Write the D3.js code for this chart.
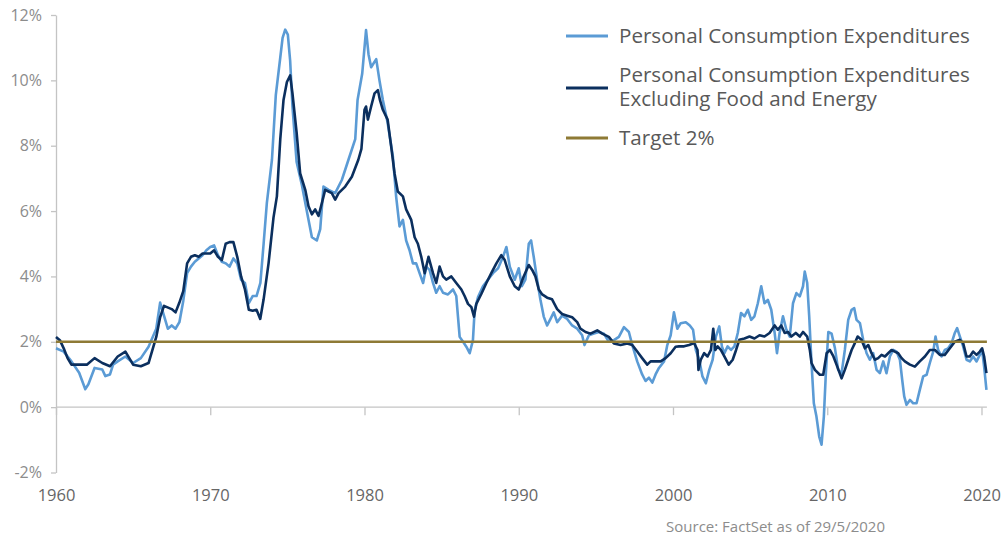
<!DOCTYPE html>
<html>
<head>
<meta charset="utf-8">
<script src="https://cdn.jsdelivr.net/npm/d3@7"></script>
<style>
  html, body { margin: 0; padding: 0; background: #ffffff; }
  svg { display: block; font-family: "Open Sans", Lato, sans-serif; }
</style>
</head>
<body>
<svg id="chart" width="1008" height="538"></svg>
<script>
// ---- Data ----
const pceYears = [1960.0,1960.5,1961.0,1961.5,1961.9,1962.1,1962.5,1963.0,1963.2,1963.5,1963.7,1964.0,1964.5,1965.0,1965.5,1966.0,1966.5,1966.75,1967.0,1967.25,1967.5,1967.75,1968.0,1968.25,1968.5,1968.75,1969.0,1969.25,1969.5,1969.75,1970.0,1970.25,1970.5,1970.75,1971.0,1971.25,1971.5,1971.75,1972.0,1972.25,1972.5,1972.75,1973.0,1973.25,1973.46,1973.67,1974.0,1974.25,1974.54,1974.69,1974.86,1975.03,1975.18,1975.33,1975.6,1975.94,1976.26,1976.59,1976.91,1977.13,1977.34,1977.67,1978.1,1978.53,1978.96,1979.4,1979.55,1979.85,1980.1,1980.26,1980.43,1980.76,1980.97,1981.19,1981.5,1981.84,1982.05,1982.27,1982.49,1982.7,1982.92,1983.14,1983.35,1983.57,1983.8,1984.0,1984.22,1984.44,1984.65,1984.87,1985.09,1985.41,1985.74,1985.95,1986.06,1986.17,1986.39,1986.6,1986.82,1987.03,1987.14,1987.36,1987.68,1988.0,1988.33,1988.66,1988.98,1989.2,1989.42,1989.74,1990.0,1990.2,1990.43,1990.65,1990.8,1990.97,1991.19,1991.4,1991.62,1991.84,1992.06,1992.27,1992.49,1992.81,1993.14,1993.46,1993.79,1994.11,1994.26,1994.55,1994.87,1995.2,1995.52,1995.84,1996.17,1996.49,1996.82,1997.14,1997.36,1997.68,1998.0,1998.22,1998.44,1998.66,1998.87,1999.09,1999.42,1999.63,1999.85,2000.06,2000.28,2000.5,2000.83,2001.09,2001.3,2001.48,2001.7,2001.91,2002.13,2002.35,2002.57,2002.78,2003.0,2003.17,2003.33,2003.54,2003.76,2003.98,2004.2,2004.41,2004.63,2004.85,2005.07,2005.28,2005.5,2005.72,2005.93,2006.15,2006.37,2006.59,2006.74,2006.91,2007.13,2007.35,2007.57,2007.78,2008.0,2008.22,2008.43,2008.54,2008.7,2008.83,2008.98,2009.13,2009.3,2009.48,2009.63,2009.78,2009.91,2010.07,2010.28,2010.5,2010.71,2010.93,2011.14,2011.36,2011.58,2011.75,2011.9,2012.12,2012.33,2012.55,2012.76,2012.98,2013.2,2013.41,2013.63,2013.84,2014.06,2014.28,2014.49,2014.71,2014.86,2014.99,2015.14,2015.36,2015.57,2015.79,2016.0,2016.22,2016.44,2016.65,2016.87,2017.02,2017.19,2017.41,2017.62,2017.84,2018.06,2018.27,2018.42,2018.6,2018.81,2019.03,2019.24,2019.46,2019.68,2019.89,2020.04,2020.17,2020.32];
const pceValues = [1.8,1.7,1.4,1.05,0.55,0.7,1.2,1.15,0.95,1.0,1.3,1.4,1.55,1.35,1.5,1.85,2.4,3.2,2.8,2.4,2.5,2.4,2.6,3.25,4.1,4.3,4.45,4.55,4.65,4.8,4.9,4.95,4.65,4.45,4.4,4.3,4.55,4.4,3.9,3.8,3.18,3.4,3.4,3.8,5.0,6.25,7.57,9.55,10.7,11.3,11.55,11.4,10.6,9.2,7.5,6.8,6.0,5.2,5.1,5.45,6.75,6.65,6.55,6.95,7.57,8.2,9.4,10.2,11.54,10.8,10.4,10.65,10.0,9.4,8.7,7.67,6.45,5.53,5.73,5.1,4.8,4.4,4.4,4.1,3.8,4.3,4.2,3.8,3.5,3.7,3.5,3.45,3.6,3.4,2.77,2.15,2.0,1.85,1.65,2.05,2.96,3.37,3.7,3.9,4.1,4.25,4.6,4.9,4.3,3.9,4.25,3.7,3.9,5.0,5.1,4.6,3.9,3.3,2.77,2.5,2.7,2.9,2.6,2.8,2.7,2.5,2.4,2.2,1.9,2.2,2.25,2.3,2.25,2.0,2.05,2.15,2.45,2.3,1.9,1.4,1.0,0.8,0.9,0.75,1.0,1.2,1.4,1.9,2.2,2.9,2.4,2.57,2.6,2.5,2.37,1.75,1.45,0.94,0.73,1.14,1.45,2.16,2.47,1.86,1.65,1.86,1.75,1.86,2.27,2.88,2.78,2.98,2.67,2.78,3.18,3.7,3.18,3.28,2.98,2.27,1.65,2.27,2.78,2.37,2.16,3.18,3.49,3.39,3.7,4.15,3.8,2.78,1.35,0.12,-0.29,-0.9,-1.15,-0.29,1.04,2.3,2.25,1.8,1.14,1.04,1.75,2.67,2.98,3.03,2.67,2.57,2.06,1.65,1.45,1.65,1.14,1.04,1.4,1.04,1.55,1.75,1.7,1.45,0.83,0.33,0.07,0.22,0.12,0.12,0.53,0.94,0.99,1.35,1.7,2.16,1.75,1.55,1.75,1.8,1.96,2.27,2.42,2.16,1.86,1.45,1.4,1.55,1.4,1.6,1.75,1.24,0.53];

const coreYears = [1960.0,1960.25,1960.5,1960.75,1961.0,1961.5,1962.0,1962.5,1963.0,1963.5,1964.0,1964.5,1965.0,1965.5,1966.0,1966.5,1966.75,1967.0,1967.5,1967.75,1968.0,1968.25,1968.5,1968.75,1969.0,1969.25,1969.5,1969.75,1970.0,1970.25,1970.5,1970.75,1971.0,1971.25,1971.5,1971.75,1972.0,1972.25,1972.5,1972.75,1973.0,1973.24,1973.46,1973.78,1974.1,1974.32,1974.54,1974.75,1974.97,1975.18,1975.33,1975.6,1975.83,1976.16,1976.37,1976.59,1976.8,1977.02,1977.24,1977.45,1977.67,1977.88,1978.1,1978.32,1978.75,1979.18,1979.6,1979.8,1980.0,1980.1,1980.22,1980.43,1980.65,1980.87,1981.0,1981.19,1981.5,1981.73,1981.95,1982.16,1982.49,1982.7,1983.03,1983.25,1983.46,1983.68,1983.9,1984.15,1984.44,1984.65,1984.87,1985.09,1985.3,1985.63,1985.95,1986.28,1986.49,1986.71,1986.93,1987.1,1987.25,1987.58,1987.9,1988.22,1988.55,1988.87,1989.09,1989.42,1989.74,1990.0,1990.32,1990.65,1990.87,1991.08,1991.3,1991.52,1991.84,1992.16,1992.49,1992.81,1993.14,1993.46,1993.79,1994.0,1994.33,1994.65,1995.09,1995.41,1995.84,1996.17,1996.6,1997.03,1997.36,1997.68,1998.0,1998.33,1998.55,1998.87,1999.2,1999.52,1999.85,2000.17,2000.39,2000.72,2001.04,2001.37,2001.59,2001.65,2001.8,2002.02,2002.24,2002.46,2002.61,2002.74,2002.89,2003.1,2003.33,2003.61,2003.87,2004.09,2004.3,2004.63,2004.96,2005.28,2005.61,2005.93,2006.26,2006.59,2006.8,2007.02,2007.24,2007.46,2007.67,2007.96,2008.22,2008.43,2008.7,2008.87,2008.98,2009.2,2009.52,2009.74,2009.96,2010.17,2010.4,2010.6,2010.93,2011.14,2011.36,2011.58,2011.79,2011.97,2012.22,2012.44,2012.66,2012.87,2013.09,2013.3,2013.52,2013.74,2013.95,2014.17,2014.38,2014.6,2014.82,2015.03,2015.36,2015.68,2016.0,2016.33,2016.65,2016.98,2017.3,2017.62,2017.95,2018.27,2018.6,2018.81,2019.03,2019.24,2019.46,2019.68,2019.89,2020.04,2020.17,2020.32];
const coreValues = [2.15,2.05,1.8,1.5,1.3,1.3,1.3,1.5,1.35,1.25,1.55,1.7,1.3,1.25,1.35,2.15,2.75,3.1,3.0,2.9,3.2,3.55,4.4,4.6,4.65,4.6,4.7,4.7,4.7,4.8,4.6,4.5,5.0,5.05,5.05,4.6,4.0,3.6,2.98,2.95,2.98,2.7,3.3,4.4,5.8,6.45,8.2,9.4,9.95,10.15,9.6,8.4,7.15,6.65,6.15,5.9,6.05,5.85,6.25,6.65,6.6,6.55,6.35,6.55,6.75,7.05,7.57,7.9,9.1,9.2,8.8,9.2,9.6,9.7,9.4,9.1,8.8,7.97,7.15,6.6,6.45,6.05,5.73,5.2,5.0,4.6,4.1,4.6,4.1,3.8,4.3,4.0,3.9,4.0,3.8,3.6,3.4,3.16,3.06,2.77,3.16,3.47,3.8,4.1,4.4,4.65,4.5,4.0,3.7,3.6,4.0,4.35,4.2,4.0,3.6,3.45,3.35,3.3,3.0,2.85,2.8,2.75,2.6,2.4,2.3,2.25,2.35,2.25,2.15,1.95,1.9,1.95,1.9,1.7,1.5,1.3,1.4,1.4,1.4,1.5,1.65,1.85,1.86,1.86,1.9,1.96,1.75,1.14,1.45,1.65,1.55,1.75,2.4,1.75,1.86,1.75,1.55,1.3,1.45,1.75,2.06,2.1,2.16,2.1,2.2,2.16,2.27,2.5,2.37,2.5,2.27,2.3,2.16,2.27,2.16,2.3,2.16,1.75,1.35,1.14,0.99,0.99,1.65,1.75,1.55,1.3,0.88,1.14,1.45,1.75,1.96,2.16,2.06,1.8,1.9,1.65,1.45,1.5,1.6,1.55,1.65,1.75,1.7,1.65,1.5,1.4,1.3,1.24,1.4,1.55,1.75,1.75,1.6,1.6,1.8,2.0,2.06,1.96,1.55,1.55,1.7,1.6,1.7,1.8,1.55,1.04];

const targetValue = 2;
const yTickValues = [-2, 0, 2, 4, 6, 8, 10, 12];
const xTickValues = [1960, 1970, 1980, 1990, 2000, 2010, 2020];
const seriesNames = ["Personal Consumption Expenditures",
                     "Personal Consumption Expenditures|Excluding Food and Energy",
                     "Target 2%"];
const sourceText = "Source: FactSet as of 29/5/2020";

// ---- Drawing ----
const colors = { pce: "#5b9bd5", core: "#0b2f5e", target: "#8e7a35" };
const FONT = "'Open Sans', Lato, sans-serif";
const svg = d3.select("#chart");

const x = d3.scaleLinear().domain([1960, 2020]).range([56, 981.5]);
const y = d3.scaleLinear().domain([-2, 12]).range([472.5, 15]);
const xEnd = x(2020.35);

// y axis
const yAxis = svg.append("g")
  .attr("transform", "translate(56,0)")
  .call(d3.axisLeft(y).tickValues(yTickValues).tickFormat(d => d + "%").tickSize(5).tickSizeOuter(0).tickPadding(9));
yAxis.select(".domain").attr("stroke", "#c4c4c4").attr("stroke-width", 1.3);
yAxis.selectAll(".tick line").attr("stroke", "#c4c4c4").attr("stroke-width", 1.3);
yAxis.selectAll(".tick text").attr("fill", "#8c8c8c").style("font-size", "16px").style("font-family", FONT);

// x axis at zero
const xAxis = svg.append("g")
  .attr("transform", `translate(0,${y(0)})`)
  .call(d3.axisBottom(x).tickValues(xTickValues).tickFormat(d3.format("d")).tickSize(8).tickSizeOuter(0).tickPadding(74));
xAxis.select(".domain").remove();
xAxis.selectAll(".tick line").attr("stroke", "#c4c4c4").attr("stroke-width", 1.3);
xAxis.selectAll(".tick text").attr("fill", "#666666").style("font-size", "16.5px").style("font-family", FONT);
svg.append("line")
  .attr("x1", x(1960)).attr("x2", xEnd)
  .attr("y1", y(0)).attr("y2", y(0))
  .attr("stroke", "#c4c4c4").attr("stroke-width", 1.3);

// series
const line = d3.line().x(d => x(d[0])).y(d => y(d[1]));
const pceData = d3.zip(pceYears, pceValues);
const coreData = d3.zip(coreYears, coreValues);

svg.append("path").datum(pceData).attr("d", line)
  .attr("fill", "none").attr("stroke", colors.pce).attr("stroke-width", 2.6).attr("stroke-linejoin", "round");
svg.append("path").datum(coreData).attr("d", line)
  .attr("fill", "none").attr("stroke", colors.core).attr("stroke-width", 2.6).attr("stroke-linejoin", "round");
svg.append("line")
  .attr("x1", x(1960)).attr("x2", xEnd)
  .attr("y1", y(targetValue)).attr("y2", y(targetValue))
  .attr("stroke", colors.target).attr("stroke-width", 2.6);

// legend
const legendItems = [
  { name: seriesNames[0], color: colors.pce, ly: 36 },
  { name: seriesNames[1], color: colors.core, ly: 88 },
  { name: seriesNames[2], color: colors.target, ly: 138 }
];
const lg = svg.append("g");
legendItems.forEach(it => {
  lg.append("line").attr("x1", 566).attr("x2", 608).attr("y1", it.ly).attr("y2", it.ly)
    .attr("stroke", it.color).attr("stroke-width", 3);
  const parts = it.name.split("|");
  if (parts.length === 1) {
    lg.append("text").attr("x", 619).attr("y", it.ly + 7).attr("fill", "#595959")
      .style("font-size", "20.6px").style("font-family", FONT).text(parts[0]);
  } else {
    lg.append("text").attr("x", 619).attr("y", it.ly - 6).attr("fill", "#595959")
      .style("font-size", "20.6px").style("font-family", FONT).text(parts[0]);
    lg.append("text").attr("x", 619).attr("y", it.ly + 18).attr("fill", "#595959")
      .style("font-size", "20.6px").style("font-family", FONT).text(parts[1]);
  }
});

// source
svg.append("text").attr("x", 885).attr("y", 532).attr("text-anchor", "end")
  .attr("fill", "#8c8c8c").style("font-size", "15px").style("font-family", FONT).text(sourceText);
</script>
</body>
</html>
